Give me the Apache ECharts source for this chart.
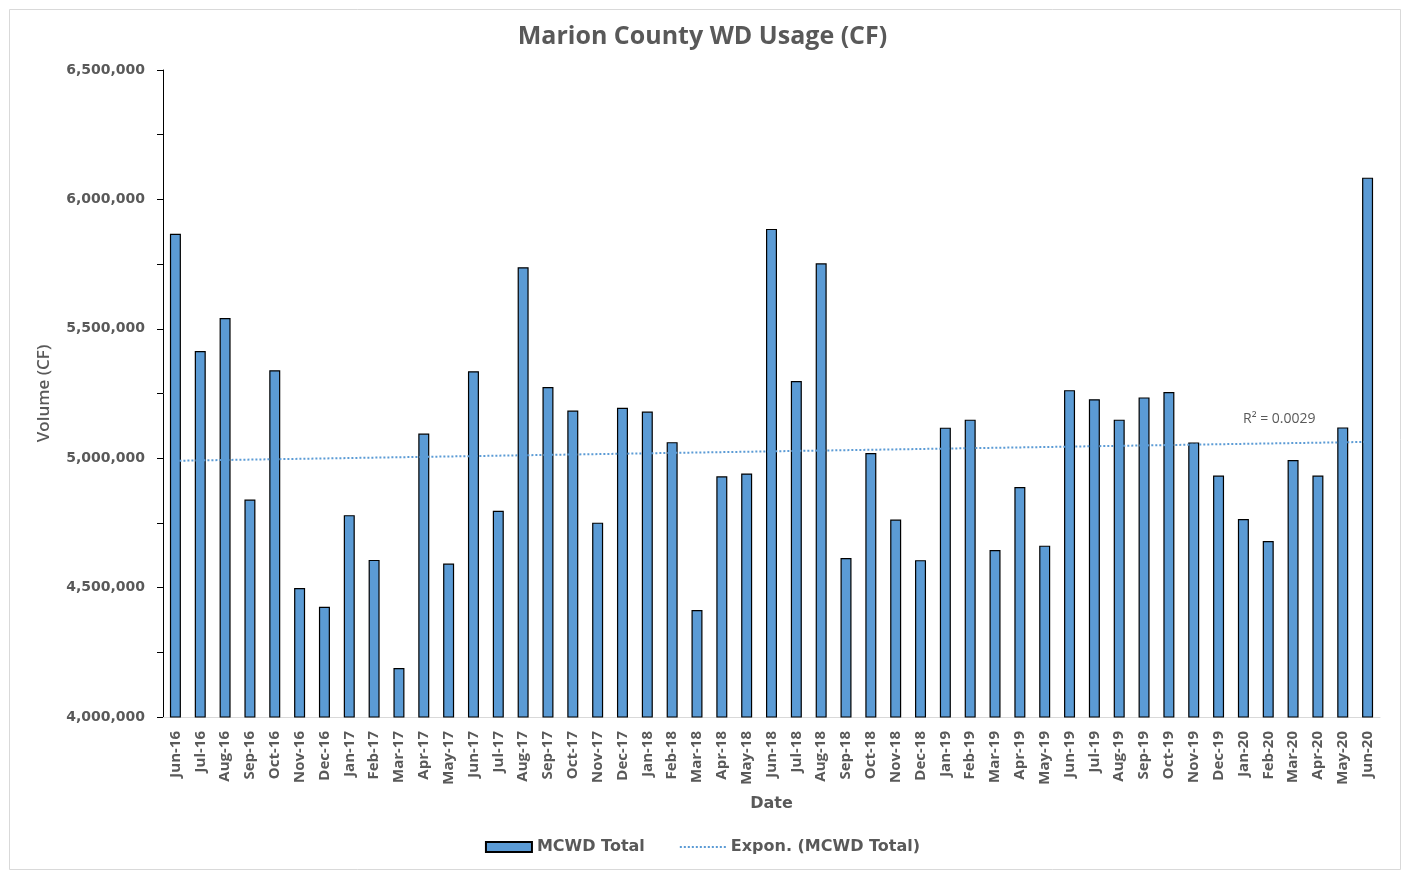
<!DOCTYPE html>
<html>
<head>
<meta charset="utf-8">
<script src="https://cdn.jsdelivr.net/npm/echarts@6/dist/echarts.min.js"></script>
<style>
html,body{margin:0;padding:0;background:#fff;}
#chart{width:1405px;height:870px;}
</style>
</head>
<body>
<div id="chart"></div>
<script>
const categories = ["Jun-16","Jul-16","Aug-16","Sep-16","Oct-16","Nov-16","Dec-16","Jan-17","Feb-17","Mar-17","Apr-17","May-17",
  "Jun-17","Jul-17","Aug-17","Sep-17","Oct-17","Nov-17","Dec-17","Jan-18","Feb-18","Mar-18","Apr-18","May-18",
  "Jun-18","Jul-18","Aug-18","Sep-18","Oct-18","Nov-18","Dec-18","Jan-19","Feb-19","Mar-19","Apr-19","May-19",
  "Jun-19","Jul-19","Aug-19","Sep-19","Oct-19","Nov-19","Dec-19","Jan-20","Feb-20","Mar-20","Apr-20","May-20","Jun-20"];
const mcwdTotal = [5867000,5414000,5542000,4840000,5340000,4498000,4426000,4780000,4607000,4189000,5095000,4593000,
  5336000,4797000,5738000,5275000,5184000,4751000,5195000,5180000,5062000,4413000,4930000,4941000,
  5886000,5298000,5753000,4614000,5020000,4763000,4606000,5118000,5149000,4645000,4889000,4662000,
  5263000,5228000,5149000,5235000,5256000,5061000,4933000,4765000,4680000,4993000,4933000,5119000,6084000];
const trendEnds = [4990000, 5063000];
const yTicks = {min: 4000000, max: 6500000, interval: 500000};
const r2Label = "R\u00B2 = 0.0029";

const chart = echarts.init(document.getElementById('chart'));
const gray = '#595959';
chart.setOption({
  animation: false,
  backgroundColor: '#fff',
  title: {
    text: 'Marion County WD Usage (CF)',
    left: 'center', top: 19,
    textStyle: {fontFamily: 'Open Sans', fontWeight: 'bold', fontSize: 25, color: gray}
  },
  grid: {left: 163, right: 25, top: 70, bottom: 153, containLabel: false},
  legend: {
    bottom: 10, left: 'center',
    itemWidth: 46, itemHeight: 10, itemGap: 34,
    textStyle: {fontFamily: 'DejaVu Sans', fontWeight: 'bold', fontSize: 16, color: gray},
    data: [
      {name: 'MCWD Total', icon: 'rect'},
      {name: 'Expon. (MCWD Total)', itemStyle: {opacity: 0}}
    ]
  },
  xAxis: {
    type: 'category', data: categories,
    name: 'Date', nameLocation: 'middle', nameGap: 79,
    nameTextStyle: {fontFamily: 'DejaVu Sans', fontWeight: 'bold', fontSize: 16, color: gray},
    axisLine: {lineStyle: {color: '#d9d9d9', width: 1}},
    axisTick: {show: false},
    axisLabel: {rotate: 90, interval: 0, margin: 14, fontFamily: 'Open Sans', fontWeight: 'bold', fontSize: 15, color: gray}
  },
  yAxis: {
    type: 'value', min: yTicks.min, max: yTicks.max, interval: yTicks.interval,
    name: 'Volume (CF)', nameLocation: 'middle', nameGap: 110, nameRotate: 90,
    nameTextStyle: {fontFamily: 'Open Sans', fontWeight: 600, fontSize: 17, color: gray},
    axisLine: {show: true, lineStyle: {color: '#000', width: 1}},
    axisTick: {show: true, length: 6, lineStyle: {color: '#000'}},
    minorTick: {show: true, splitNumber: 2, length: 6, lineStyle: {color: '#000'}},
    splitLine: {show: false},
    axisLabel: {margin: 18, fontFamily: 'DejaVu Sans', fontWeight: 'bold', fontSize: 14, color: gray,
      formatter: v => v.toLocaleString('en-US')}
  },
  series: [
    {
      name: 'MCWD Total', type: 'bar', data: mcwdTotal, barWidth: 11,
      itemStyle: {color: '#5B9BD5', borderColor: '#000', borderWidth: 1.2}
    },
    {
      name: 'Expon. (MCWD Total)', type: 'line',
      data: [[categories[0], trendEnds[0]], [categories[categories.length - 1], trendEnds[1]]],
      symbol: 'none', z: 5,
      lineStyle: {color: '#5B9BD5', width: 2, type: [2, 2]}
    }
  ],
  graphic: [
    {type: 'rect', left: 7, top: 7, shape: {width: 1391, height: 860}, style: {fill: 'none', stroke: '#d9d9d9', lineWidth: 1}, silent: true},
    {type: 'text', left: 1243, top: 412, style: {text: r2Label, fontFamily: 'Open Sans', fontSize: 14, fill: gray}}
  ]
});
</script>
</body>
</html>
